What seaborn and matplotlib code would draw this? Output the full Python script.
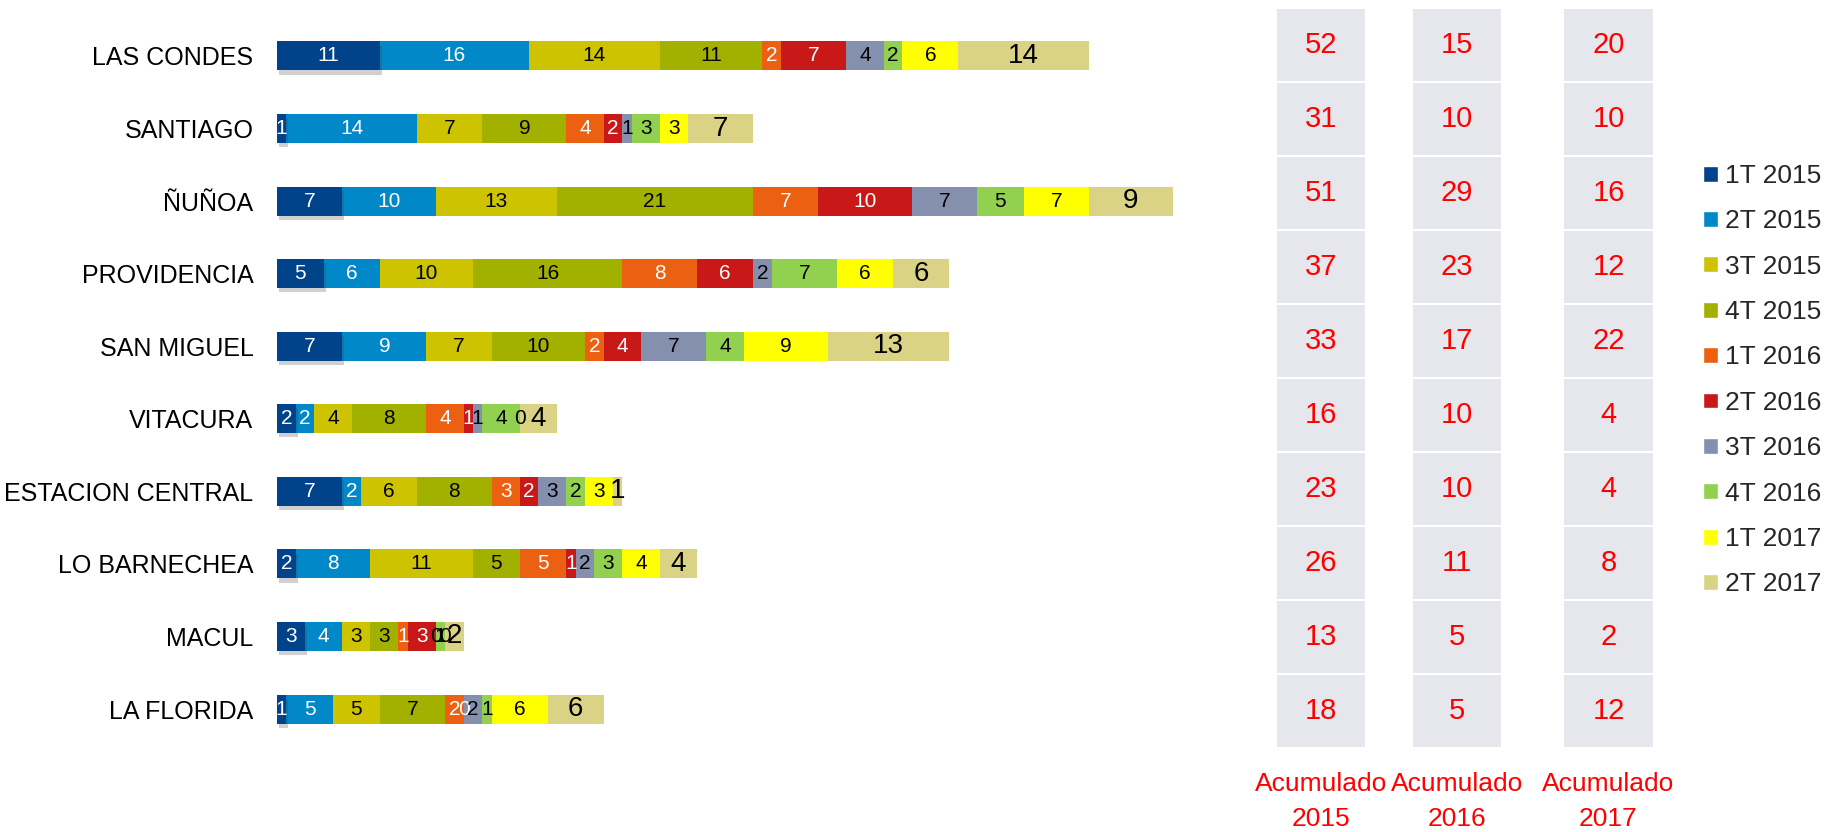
import numpy as np
import pandas as pd
import matplotlib
matplotlib.use('Agg')
import matplotlib.pyplot as plt
import matplotlib.patheffects as pe
from matplotlib.patches import Patch
import seaborn as sns

# Datos
comunas = ['LAS CONDES', 'SANTIAGO', 'ÑUÑOA', 'PROVIDENCIA', 'SAN MIGUEL',
           'VITACURA', 'ESTACION CENTRAL', 'LO BARNECHEA', 'MACUL', 'LA FLORIDA']
trimestres = ['1T 2015', '2T 2015', '3T 2015', '4T 2015', '1T 2016',
              '2T 2016', '3T 2016', '4T 2016', '1T 2017', '2T 2017']
t1_2015 = [11, 1, 7, 5, 7, 2, 7, 2, 3, 1]
t2_2015 = [16, 14, 10, 6, 9, 2, 2, 8, 4, 5]
t3_2015 = [14, 7, 13, 10, 7, 4, 6, 11, 3, 5]
t4_2015 = [11, 9, 21, 16, 10, 8, 8, 5, 3, 7]
t1_2016 = [2, 4, 7, 8, 2, 4, 3, 5, 1, 2]
t2_2016 = [7, 2, 10, 6, 4, 1, 2, 1, 3, 0]
t3_2016 = [4, 1, 7, 2, 7, 1, 3, 2, 0, 2]
t4_2016 = [2, 3, 5, 7, 4, 4, 2, 3, 1, 1]
t1_2017 = [6, 3, 7, 6, 9, 0, 3, 4, 0, 6]
t2_2017 = [14, 7, 9, 6, 13, 4, 1, 4, 2, 6]
acum_2015 = [52, 31, 51, 37, 33, 16, 23, 26, 13, 18]
acum_2016 = [15, 10, 29, 23, 17, 10, 10, 11, 5, 5]
acum_2017 = [20, 10, 16, 12, 22, 4, 4, 8, 2, 12]

colores = ['#00438A', '#0088C8', '#CEC300', '#A2B000', '#EC6011',
           '#C81818', '#8490AE', '#92D050', '#FFFF00', '#DAD385']
texto_blanco = [True, True, False, False, True, True, False, False, False, False]

series = [t1_2015, t2_2015, t3_2015, t4_2015, t1_2016,
          t2_2016, t3_2016, t4_2016, t1_2017, t2_2017]
df = pd.DataFrame(dict(zip(trimestres, series)), index=comunas)
cum = df.cumsum(axis=1)

sns.set_style('white')
plt.rcParams['font.family'] = ['Liberation Sans', 'DejaVu Sans']

W, H = 1829, 832
fig = plt.figure(figsize=(W / 100, H / 100), dpi=100)

def px_axes(x0, y0, x1, y1):
    return fig.add_axes([x0 / W, 1 - y1 / H, (x1 - x0) / W, (y1 - y0) / H])

# Barras apiladas (se dibuja el acumulado de atrás hacia adelante)
ax = px_axes(277, 19.7, 1173, 745.3)
for i in reversed(range(len(trimestres))):
    sns.barplot(x=cum[trimestres[i]].values, y=comunas, orient='h',
                color=colores[i], saturation=1, width=0.4, linewidth=0, ax=ax)
    if i == 0:
        for b in ax.patches[-len(comunas):]:
            b.set_path_effects([pe.SimplePatchShadow(offset=(1.5, -3), alpha=0.25, shadow_rgbFace='#444444'),
                                pe.Normal()])

for r, comuna in enumerate(comunas):
    for i, t in enumerate(trimestres):
        v = df.loc[comuna, t]
        xc = cum.loc[comuna, t] - v / 2
        ax.text(xc, r, str(v), ha='center', va='center',
                fontsize=20 if i == len(trimestres) - 1 else 15,
                color='white' if texto_blanco[i] else 'black')

ax.set_xlim(0, df.sum(axis=1).max())
ax.set_ylim(len(comunas) - 0.5, -0.5)
ax.set_xticks([])
ax.set_xlabel('')
ax.tick_params(axis='y', length=0, pad=17, labelsize=18, labelcolor='black')
sns.despine(ax=ax, left=True, bottom=True)

# Columnas de acumulados
cajas = [(1277, 1365, acum_2015, '2015'), (1413, 1501, acum_2016, '2016'),
         (1564, 1653, acum_2017, '2017')]
for x0, x1, vals, anio in cajas:
    axc = px_axes(x0, 8, x1, 748)
    axc.bar(np.zeros(len(vals)), 0.96, bottom=np.arange(len(vals)) + 0.02,
            width=1, color='#E6E7EC', linewidth=0)
    for r, v in enumerate(vals):
        axc.text(0, r + 0.5, str(v), ha='center', va='center', fontsize=21, color='#FF0000')
    axc.set_xlim(-0.5, 0.5)
    axc.set_ylim(len(vals), 0)
    axc.axis('off')
    axc.text(0.5, -0.072, 'Acumulado\n' + anio, transform=axc.transAxes, ha='center',
             va='center', fontsize=19, color='#FF0000', linespacing=1.55)

# Leyenda
handles = [Patch(facecolor=c, label=t) for c, t in zip(colores, trimestres)]
fig.legend(handles=handles, loc='upper left', bbox_to_anchor=(1703 / W, 1 - 164 / H),
           frameon=False, fontsize=19, handlelength=0.55, handleheight=0.55,
           handletextpad=0.3, labelspacing=0.81, borderaxespad=0, borderpad=0)

fig.savefig('out.png', dpi=100)
